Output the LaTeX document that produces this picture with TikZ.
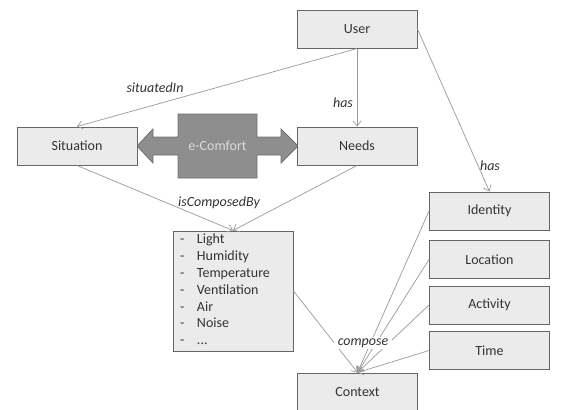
\documentclass[tikz,border=0pt]{standalone}
\usepackage{fontspec}
\setmainfont{Carlito}
\usetikzlibrary{arrows.meta}

\definecolor{boxfill}{HTML}{EBEBEB}
\definecolor{boxline}{HTML}{666666}
\definecolor{inktext}{HTML}{333333}
\definecolor{linkgray}{HTML}{9A9A9A}
\definecolor{bigarrow}{HTML}{8E8E8E}
\definecolor{bigarrowline}{HTML}{707070}

\tikzset{
  concept/.style={draw=boxline, fill=boxfill, line width=1pt,
    minimum width=120pt, minimum height=38pt, inner sep=0pt,
    text=inktext, font=\fontsize{14}{16.8}\selectfont},
  listbox/.style={draw=boxline, fill=boxfill, line width=1pt,
    minimum width=120pt, minimum height=120pt, inner xsep=7pt, inner ysep=0pt,
    text width=106pt, align=left,
    text=inktext, font=\fontsize{14}{16.8}\selectfont},
  link/.style={draw=linkgray, line width=0.7pt,
    -{Straight Barb[length=5pt,width=8pt,line width=0.7pt]}},
  rel/.style={text=inktext, font=\fontsize{14}{16.8}\selectfont\itshape, inner sep=1pt},
}

\begin{document}
\begin{tikzpicture}[x=1pt,y=-1pt]
\useasboundingbox (0,0) rectangle (566,410);
\fill[white] (0,0) rectangle (566,410);

% e-Comfort double arrow with central block
\draw[fill=bigarrow, draw=bigarrowline, line width=0.8pt, line join=miter]
  (137,146) -- (153,129) -- (153,137) -- (178,137) -- (178,114) -- (257,114)
  -- (257,137) -- (281,137) -- (281,129) -- (298,146) -- (281,163) -- (281,155)
  -- (257,155) -- (257,178) -- (178,178) -- (178,155) -- (153,155) -- (153,163) -- cycle;
\node[text=white!86!black, font=\fontsize{14}{16.8}\selectfont] (ecomfort) at (217.5,146) {e-Comfort};

% concepts
\node[concept] (user)      at (357,29)    {User};
\node[concept] (situation) at (77,146)    {Situation};
\node[concept] (needs)     at (357,146)   {Needs};
\node[concept] (identity)  at (489.5,211) {Identity};
\node[concept] (location)  at (489.5,259.5) {Location};
\node[concept] (activity)  at (489.5,305) {Activity};
\node[concept] (time)      at (489.5,350.5) {Time};
\node[concept] (context)   at (357.5,392) {Context};

\node[listbox] (factors) at (233,291) {%
  \begin{tabular}{@{}p{17pt}@{}l@{}}
  - & Light\\
  - & Humidity\\
  - & Temperature\\
  - & Ventilation\\
  - & Air\\
  - & Noise\\
  - & ...
  \end{tabular}};

% relations
\draw[link] (user.south) -- (situation.north);
\draw[link] (user.south) -- (needs.north);
\draw[link] (user.east) -- (identity.north);
\draw[link] (situation.south) -- (factors.north);
\draw[link] (needs.south) -- (factors.north);
\draw[link] (factors.east) -- (context.north);
\draw[link] (identity.west) -- (context.north);
\draw[link] (location.west) -- (context.north);
\draw[link] (activity.west) -- (context.north);
\draw[link] (time.west) -- (context.north);

% relation labels
\node[rel] (lblsituated) at (155,88)  {situatedIn};
\node[rel] (lblhas)      at (343,103) {has};
\node[rel] (lblhasid)    at (490,166) {has};
\node[rel] (lblcomposed) at (219,203) {isComposedBy};
\node[rel, fill=white, inner xsep=4pt] (lblcompose) at (363,343) {compose};
\end{tikzpicture}
\end{document}
